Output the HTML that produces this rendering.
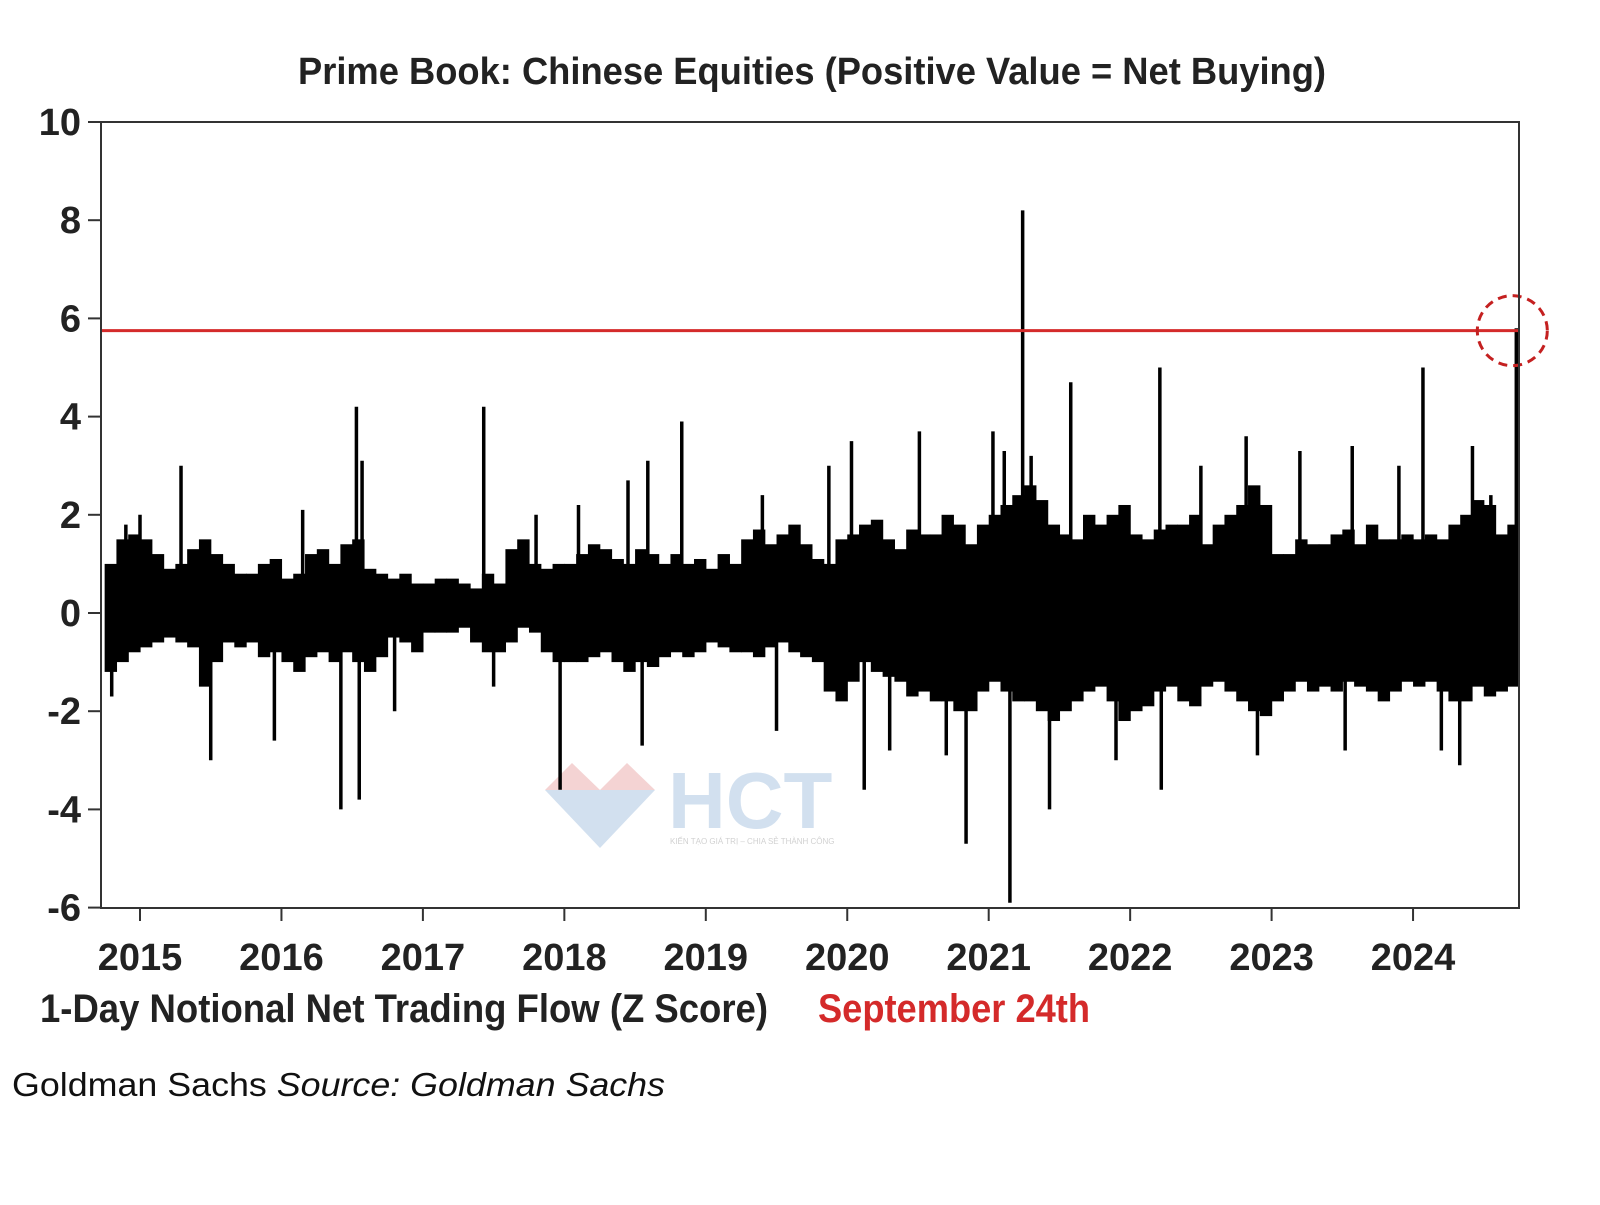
<!DOCTYPE html>
<html><head><meta charset="utf-8"><style>
body{margin:0;background:#fff;width:1600px;height:1200px;overflow:hidden}
svg text{font-family:"Liberation Sans Narrow","Liberation Sans",sans-serif}
</style></head><body>
<svg id="chart" width="1600" height="1200" xmlns="http://www.w3.org/2000/svg">
<rect width="1600" height="1200" fill="#fff"/>
<text x="298" y="84" textLength="1028" lengthAdjust="spacingAndGlyphs" font-size="38" font-weight="bold" fill="#222">Prime Book: Chinese Equities (Positive Value = Net Buying)</text>
<g id="watermark" opacity="0.45">
<polygon points="545,790 572,763 600,790" fill="#e8a0a0"/><polygon points="600,790 627,763 655,790" fill="#e8a0a0"/>
<polygon points="545,790 600,790 600,848" fill="#9dbcdc"/><polygon points="600,790 655,790 600,848" fill="#9dbcdc"/>
<text x="668" y="828" font-size="80" font-weight="bold" fill="#9dbcdc" font-family="Liberation Sans,sans-serif">HCT</text>
<text x="670" y="844" font-size="8" fill="#999">KIẾN TẠO GIÁ TRỊ – CHIA SẺ THÀNH CÔNG</text>
</g>
<g id="marks"></g>
<g id="axes"></g>
<text x="40" y="1022" textLength="728" lengthAdjust="spacingAndGlyphs" font-size="40" font-weight="bold" fill="#222">1-Day Notional Net Trading Flow (Z Score)</text>
<text x="818" y="1022" textLength="272" lengthAdjust="spacingAndGlyphs" font-size="40" font-weight="bold" fill="#d42a2a">September 24th</text>
<text x="12" y="1096" textLength="653" lengthAdjust="spacingAndGlyphs" font-size="33" fill="#111" font-family="Liberation Sans,sans-serif">Goldman Sachs <tspan font-style="italic">Source: Goldman Sachs</tspan></text>
</svg>
<script>
const yTicks=[10,8,6,4,2,0,-2,-4,-6];
const xYears=[2015,2016,2017,2018,2019,2020,2021,2022,2023,2024];
const startYear=2014.75;
const monthlyHigh=[1.0,1.5,1.6,
1.5,1.2,0.9,1.0,1.3,1.5,1.2,1.0,0.8,0.8,1.0,1.1,
0.7,0.8,1.2,1.3,1.0,1.4,1.5,0.9,0.8,0.7,0.8,0.6,
0.6,0.7,0.7,0.6,0.5,0.8,0.6,1.3,1.5,1.0,0.9,1.0,
1.0,1.2,1.4,1.3,1.1,1.0,1.3,1.2,1.0,1.2,1.0,1.1,
0.9,1.2,1.0,1.5,1.7,1.4,1.6,1.8,1.4,1.1,1.0,1.5,
1.6,1.8,1.9,1.5,1.3,1.7,1.6,1.6,2.0,1.8,1.4,1.8,
2.0,2.2,2.4,2.6,2.3,1.8,1.6,1.5,2.0,1.8,2.0,2.2,
1.6,1.5,1.7,1.8,1.8,2.0,1.4,1.8,2.0,2.2,2.6,2.2,
1.2,1.2,1.5,1.4,1.4,1.6,1.7,1.4,1.8,1.5,1.5,1.6,
1.5,1.6,1.5,1.8,2.0,2.3,2.2,1.6,1.8];
const monthlyLow=[-1.2,-1.0,-0.8,
-0.7,-0.6,-0.5,-0.6,-0.7,-1.5,-1.0,-0.6,-0.7,-0.6,-0.9,-0.8,
-1.0,-1.2,-0.9,-0.8,-1.0,-0.8,-1.0,-1.2,-0.9,-0.5,-0.6,-0.8,
-0.4,-0.4,-0.4,-0.3,-0.6,-0.8,-0.8,-0.6,-0.3,-0.4,-0.8,-1.0,
-1.0,-1.0,-0.9,-0.8,-1.0,-1.2,-1.0,-1.1,-0.9,-0.8,-0.9,-0.8,
-0.6,-0.7,-0.8,-0.8,-0.9,-0.7,-0.6,-0.8,-0.9,-1.0,-1.6,-1.8,
-1.4,-1.0,-1.2,-1.3,-1.4,-1.7,-1.6,-1.8,-1.8,-2.0,-2.0,-1.6,
-1.4,-1.6,-1.8,-1.8,-2.0,-2.2,-2.0,-1.8,-1.6,-1.5,-1.8,-2.2,
-2.0,-1.9,-1.6,-1.5,-1.8,-1.9,-1.5,-1.4,-1.6,-1.8,-2.0,-2.1,
-1.8,-1.6,-1.4,-1.6,-1.5,-1.6,-1.4,-1.5,-1.6,-1.8,-1.6,-1.4,
-1.5,-1.4,-1.6,-1.8,-1.8,-1.5,-1.7,-1.6,-1.5];
const spikeDates=[2014.8,2014.9,2015.0,2015.29,2015.50,2015.95,2016.15,2016.42,2016.53,2016.55,2016.57,2016.8,2017.43,2017.5,2017.8,2017.97,2018.1,2018.45,2018.55,2018.59,2018.83,2019.4,2019.5,2019.87,2020.03,2020.12,2020.3,2020.51,2020.7,2020.84,2021.03,2021.11,2021.15,2021.24,2021.3,2021.43,2021.58,2021.9,2022.21,2022.22,2022.5,2022.82,2022.9,2023.2,2023.52,2023.57,2023.9,2024.07,2024.2,2024.33,2024.42,2024.55,2024.73];
const spikeValues=[-1.7,1.8,2.0,3.0,-3.0,-2.6,2.1,-4.0,4.2,-3.8,3.1,-2.0,4.2,-1.5,2.0,-3.6,2.2,2.7,-2.7,3.1,3.9,2.4,-2.4,3.0,3.5,-3.6,-2.8,3.7,-2.9,-4.7,3.7,3.3,-5.9,8.2,3.2,-4.0,4.7,-3.0,5.0,-3.6,3.0,3.6,-2.9,3.3,-2.8,3.4,3.0,5.0,-2.8,-3.1,3.4,2.4,5.8];
const refLevel=5.75;
const L=101,R=1519,T=122,B=908;
const y=v=>613-(v*49.1);
const x=d=>140+(d-2015)*141.45;
const NS='http://www.w3.org/2000/svg';
function mk(tag,attrs,parent){const e=document.createElementNS(NS,tag);for(const k in attrs)e.setAttribute(k,attrs[k]);parent.appendChild(e);return e;}
const marks=document.getElementById('marks'),axes=document.getElementById('axes');
monthlyHigh.forEach((h,i)=>{
  const d=startYear+i/12;
  const r=mk('rect',{x:x(d),y:y(h),width:141.45/12+0.6,height:y(monthlyLow[i])-y(h),fill:'#000'},marks);
  
  
});
spikeDates.forEach((d,i)=>{
  const l=mk('line',{x1:x(d),x2:x(d),y1:y(0),y2:y(spikeValues[i]),stroke:'#000','stroke-width':3.5},marks);
  
  
});
const ref=mk('line',{x1:L,x2:R,y1:y(refLevel),y2:y(refLevel),stroke:'#d42a2a','stroke-width':3},marks);


const circ=mk('circle',{cx:x(2024.73)-4,cy:y(refLevel),r:35,fill:'none',stroke:'#c42020','stroke-width':3,'stroke-dasharray':'9 6'},marks);


const frame=mk('rect',{x:L,y:T,width:R-L,height:B-T,fill:'none',stroke:'#333','stroke-width':2},axes);


yTicks.forEach(v=>{
  mk('line',{x1:L-13,x2:L,y1:y(v),y2:y(v),stroke:'#333','stroke-width':2},axes);
  const t=mk('text',{x:L-20,y:y(v)+13,'text-anchor':'end','font-size':38,'font-weight':'bold',fill:'#222'},axes);
  t.textContent=v;
  
  
});
xYears.forEach(v=>{
  mk('line',{x1:x(v),x2:x(v),y1:B,y2:B+13,stroke:'#333','stroke-width':2},axes);
  const t=mk('text',{x:x(v),y:970,'text-anchor':'middle','font-size':38,'font-weight':'bold',fill:'#222'},axes);
  t.textContent=v;
  
  
});
</script>
</body></html>
